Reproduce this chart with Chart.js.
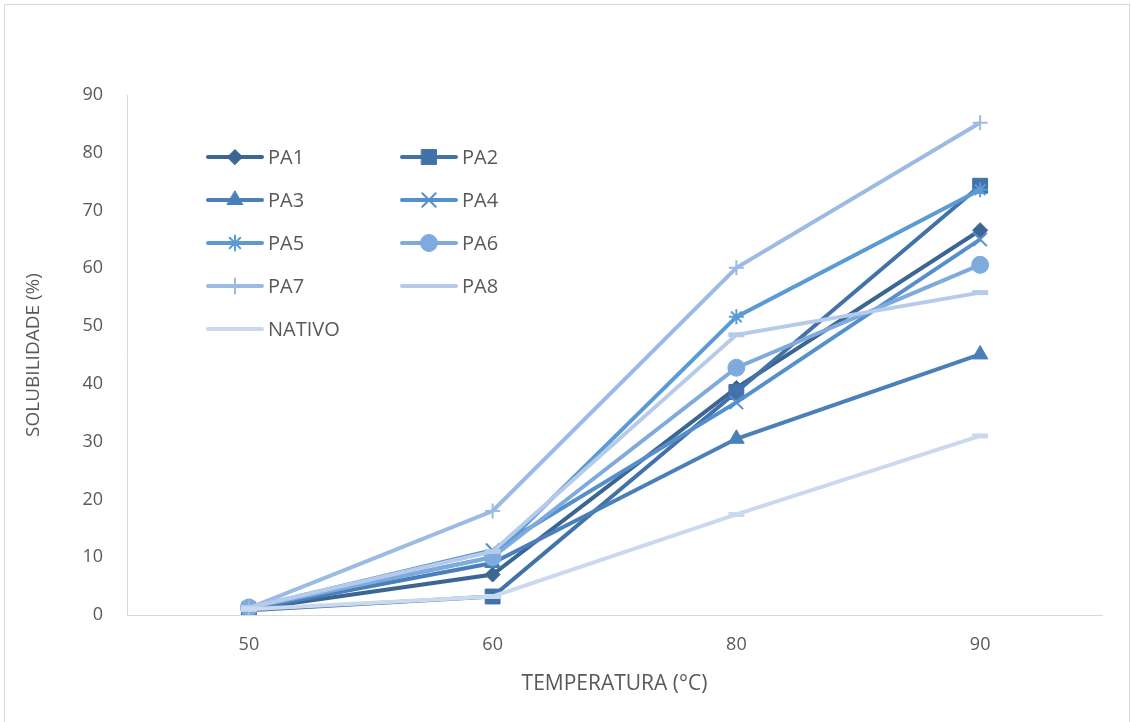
<!DOCTYPE html>
<html>
<head>
<meta charset="utf-8">
<script src="https://cdn.jsdelivr.net/npm/chart.js@4/dist/chart.umd.min.js"></script>
<style>
  body { margin: 0; background: #fff; }
  #wrap { position: relative; width: 1131px; height: 722px; overflow: hidden; }
  #frame { position: absolute; left: 4px; top: 4px; width: 1124px; height: 740px; border: 1px solid #d9d9d9; pointer-events: none; }
  canvas { position: absolute; left: 0; top: 0; }
</style>
</head>
<body>
<div id="wrap">
  <div id="frame"></div>
  <canvas id="solubChart" width="1131" height="722"></canvas>
</div>
<script>
// temperatures (°C)
var temps = ["50", "60", "80", "90"];

// solubility (%) per sample
var pa1 = [1.0, 7.0, 39.3, 66.6];
var pa2 = [0.8, 3.2, 38.6, 74.3];
var pa3 = [1.0, 9.0, 30.5, 45.1];
var pa4 = [1.2, 11.2, 36.8, 65.0];
var pa5 = [1.2, 10.0, 51.6, 73.6];
var pa6 = [1.3, 10.0, 42.8, 60.6];
var pa7 = [1.2, 18.0, 60.1, 85.2];
var pa8 = [1.3, 11.0, 48.5, 55.8];
var nativo = [1.0, 3.2, 17.4, 31.0];

var names = ["PA1", "PA2", "PA3", "PA4", "PA5", "PA6", "PA7", "PA8", "NATIVO"];
var values = [pa1, pa2, pa3, pa4, pa5, pa6, pa7, pa8, nativo];
var colors = ["#3b6592", "#4272a8", "#4a7fba", "#5590cc", "#5b9bd5", "#7eaadd", "#9cbbe3", "#b5cbe9", "#cbd9ee"];
var styles = ["rectRot", "rect", "triangle", "crossRot", "star", "circle", "cross", "line", "line"];
var radii = [7.5, 10.5, 9, 9.5, 7.5, 8.5, 7.5, 8, 8];

var textColor = "#595959";
var fontFamily = "'Open Sans', 'Noto Sans', sans-serif";

var datasets = [];
for (let i = 0; i < names.length; i++)
{
  var crossy = styles[i] == "crossRot" || styles[i] == "star" || styles[i] == "cross";
  datasets.push({
    label: names[i],
    data: values[i],
    borderColor: colors[i],
    backgroundColor: colors[i],
    borderWidth: 4,
    pointStyle: styles[i],
    pointRadius: radii[i],
    pointHoverRadius: radii[i],
    pointBorderWidth: styles[i] == "line" ? 5 : (crossy ? 2 : 1),
    pointBorderColor: colors[i],
    pointBackgroundColor: colors[i],
    tension: 0,
    order: names.length - 1 - i
  });
}

// legend drawn inside the plot, two columns like the original
var insideLegend = {
  id: "insideLegend",
  afterDraw: function(chart) {
    var ctx = chart.ctx;
    var area = chart.chartArea;
    ctx.save();
    for (let i = 0; i < names.length; i++)
    {
      var col = i % 2;
      var row = Math.floor(i / 2);
      var x0 = area.left + 81 + col * 194;
      var y = area.top + 62 + row * 43;
      ctx.strokeStyle = colors[i];
      ctx.lineWidth = 4;
      ctx.lineCap = "round";
      ctx.beginPath();
      ctx.moveTo(x0, y);
      ctx.lineTo(x0 + 54, y);
      ctx.stroke();
      if (styles[i] != "line")
      {
        ctx.fillStyle = colors[i];
        ctx.strokeStyle = colors[i];
        ctx.lineWidth = datasets[i].pointBorderWidth;
        Chart.helpers.drawPoint(ctx, {pointStyle: styles[i], radius: radii[i], rotation: 0, borderWidth: datasets[i].pointBorderWidth}, x0 + 27, y);
      }
      ctx.fillStyle = textColor;
      ctx.font = "20px " + fontFamily;
      ctx.textBaseline = "middle";
      ctx.textAlign = "left";
      ctx.fillText(names[i], x0 + 60, y + 1);
    }
    ctx.restore();
  }
};

new Chart("solubChart", {
  type: "line",
  data: {
    labels: temps,
    datasets: datasets
  },
  options: {
    responsive: false,
    animation: false,
    layout: { padding: { left: 0, top: 95, right: 29, bottom: 0 } },
    plugins: {
      legend: { display: false },
      tooltip: { enabled: false }
    },
    scales: {
      x: {
        offset: true,
        grid: { display: false, drawTicks: false },
        border: { display: true, color: "#d9d9d9", width: 1 },
        ticks: { color: textColor, font: { family: fontFamily, size: 18 }, padding: 19 },
        title: {
          display: true,
          text: "TEMPERATURA (°C)",
          color: textColor,
          font: { family: fontFamily, size: 21 },
          padding: { top: 0, bottom: 25 }
        },
        afterFit: function(scale) { scale.height = 107; }
      },
      y: {
        min: 0,
        max: 90,
        grid: { display: false, drawTicks: false },
        border: { display: true, color: "#d9d9d9", width: 1 },
        ticks: { stepSize: 10, color: textColor, font: { family: fontFamily, size: 18 }, padding: 24 },
        title: {
          display: true,
          text: "SOLUBILIDADE (%)",
          color: textColor,
          font: { family: fontFamily, size: 19 },
          padding: { top: 22, bottom: 0 }
        },
        afterFit: function(scale) { scale.width = 127; }
      }
    }
  },
  plugins: [insideLegend]
});
</script>
</body>
</html>
